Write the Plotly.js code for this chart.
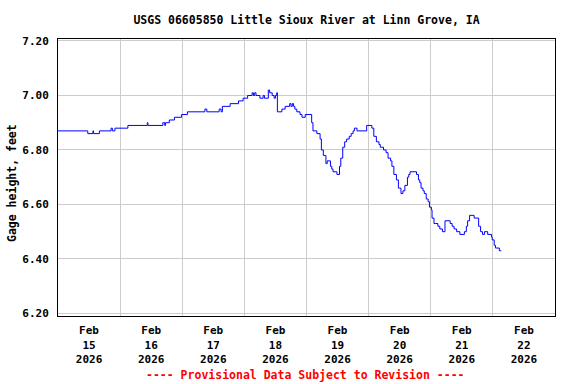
<!DOCTYPE html>
<html>
<head>
<meta charset="utf-8">
<script src="https://cdn.plot.ly/plotly-3.0.1.min.js"></script>
<style>
  html, body { margin: 0; padding: 0; background: #fff; }
  #chart { width: 576px; height: 384px; }
</style>
</head>
<body>
<div id="chart"></div>
<script>
// ---- Data ----
const chartTitle = "USGS 06605850 Little Sioux River at Linn Grove, IA";
const yAxisTitle = "Gage height, feet";
const footerText = "---- Provisional Data Subject to Revision ----";

const times = [
  "2026-02-15 00:00","2026-02-15 11:30","2026-02-15 13:30","2026-02-15 13:45","2026-02-15 16:00",
  "2026-02-15 20:30","2026-02-15 21:00","2026-02-15 22:00","2026-02-16 03:00","2026-02-16 10:30",
  "2026-02-16 10:45","2026-02-16 16:30","2026-02-16 17:15","2026-02-16 17:30","2026-02-16 19:00",
  "2026-02-16 21:00","2026-02-16 23:45","2026-02-17 02:00","2026-02-17 08:45","2026-02-17 09:30",
  "2026-02-17 14:15","2026-02-17 15:00","2026-02-17 15:30","2026-02-17 18:30","2026-02-17 21:45",
  "2026-02-17 23:30","2026-02-18 01:15","2026-02-18 03:00","2026-02-18 03:30","2026-02-18 04:00",
  "2026-02-18 04:30","2026-02-18 06:00","2026-02-18 07:15","2026-02-18 07:45","2026-02-18 09:15",
  "2026-02-18 09:45","2026-02-18 10:45","2026-02-18 11:30","2026-02-18 12:00","2026-02-18 12:30",
  "2026-02-18 12:45","2026-02-18 14:30","2026-02-18 15:45","2026-02-18 17:30","2026-02-18 18:00",
  "2026-02-18 18:30","2026-02-18 19:00","2026-02-18 19:30","2026-02-18 20:15","2026-02-18 21:30",
  "2026-02-18 22:15","2026-02-18 23:30","2026-02-19 02:00","2026-02-19 02:30","2026-02-19 04:00",
  "2026-02-19 05:15","2026-02-19 05:45","2026-02-19 06:30","2026-02-19 07:30","2026-02-19 08:00",
  "2026-02-19 09:15","2026-02-19 09:45","2026-02-19 10:15","2026-02-19 11:45","2026-02-19 12:45",
  "2026-02-19 13:15","2026-02-19 14:00","2026-02-19 14:45","2026-02-19 15:30","2026-02-19 16:30",
  "2026-02-19 17:15","2026-02-19 18:00","2026-02-19 18:30","2026-02-19 19:30","2026-02-19 23:15",
  "2026-02-20 01:15","2026-02-20 02:00","2026-02-20 03:00","2026-02-20 04:00","2026-02-20 04:30",
  "2026-02-20 05:45","2026-02-20 06:45","2026-02-20 07:30","2026-02-20 08:30","2026-02-20 09:00",
  "2026-02-20 09:45","2026-02-20 10:45","2026-02-20 11:30","2026-02-20 12:30","2026-02-20 13:15",
  "2026-02-20 14:00","2026-02-20 15:00","2026-02-20 15:30","2026-02-20 16:00","2026-02-20 18:30",
  "2026-02-20 19:15","2026-02-20 19:45","2026-02-20 20:15","2026-02-20 21:00","2026-02-20 21:30",
  "2026-02-20 22:15","2026-02-20 23:00","2026-02-20 23:30","2026-02-21 00:15","2026-02-21 00:30",
  "2026-02-21 01:15","2026-02-21 01:45","2026-02-21 02:45","2026-02-21 03:30","2026-02-21 04:30",
  "2026-02-21 05:30","2026-02-21 07:30","2026-02-21 08:15","2026-02-21 09:00","2026-02-21 10:00",
  "2026-02-21 11:15","2026-02-21 13:00","2026-02-21 13:45","2026-02-21 14:15","2026-02-21 15:00",
  "2026-02-21 16:45","2026-02-21 18:30","2026-02-21 19:15","2026-02-21 20:00","2026-02-21 20:45",
  "2026-02-21 22:00","2026-02-21 23:30","2026-02-21 23:45","2026-02-22 00:30","2026-02-22 01:00",
  "2026-02-22 02:00","2026-02-22 02:30","2026-02-22 03:15"
];

const gageHeight = [
  6.87, 6.86, 6.87, 6.86, 6.87,
  6.88, 6.87, 6.88, 6.89, 6.90,
  6.89, 6.90, 6.89, 6.90, 6.91,
  6.92, 6.93, 6.94, 6.95, 6.94,
  6.95, 6.94, 6.96, 6.97, 6.98,
  6.99, 7.00, 7.01, 7.00, 7.01,
  7.00, 6.99, 7.00, 6.99, 7.02,
  7.01, 7.00, 6.99, 7.00, 7.01,
  6.94, 6.95, 6.96, 6.97, 6.96,
  6.97, 6.96, 6.95, 6.94, 6.93,
  6.92, 6.93, 6.90, 6.87, 6.86,
  6.84, 6.80, 6.78, 6.75, 6.76,
  6.74, 6.73, 6.72, 6.71, 6.74,
  6.77, 6.81, 6.83, 6.84, 6.85,
  6.86, 6.87, 6.88, 6.87, 6.89,
  6.88, 6.85, 6.83, 6.82, 6.81,
  6.80, 6.79, 6.77, 6.76, 6.74,
  6.71, 6.69, 6.66, 6.64, 6.65,
  6.67, 6.70, 6.71, 6.72, 6.71,
  6.69, 6.68, 6.66, 6.65, 6.64,
  6.62, 6.61, 6.59, 6.58, 6.55,
  6.53, 6.53, 6.52, 6.51, 6.50,
  6.54, 6.53, 6.52, 6.51, 6.50,
  6.49, 6.50, 6.52, 6.54, 6.56,
  6.55, 6.52, 6.50, 6.49, 6.50,
  6.49, 6.48, 6.47, 6.45, 6.44,
  6.44, 6.43, 6.43
];

const xTickDates = ["2026-02-15 12:00","2026-02-16 12:00","2026-02-17 12:00","2026-02-18 12:00",
                    "2026-02-19 12:00","2026-02-20 12:00","2026-02-21 12:00","2026-02-22 12:00"];
const xTickLabels = ["Feb<br>15<br>2026","Feb<br>16<br>2026","Feb<br>17<br>2026","Feb<br>18<br>2026",
                     "Feb<br>19<br>2026","Feb<br>20<br>2026","Feb<br>21<br>2026","Feb<br>22<br>2026"];
const yTickValues = [6.2, 6.4, 6.6, 6.8, 7.0, 7.2];
const xRange = ["2026-02-15 00:00", "2026-02-23 00:00"];
const yRange = [6.1905, 7.2073];

// ---- Chart ----
const monoFont = "DejaVu Sans Mono, Liberation Mono, monospace";

const trace = {
  type: "scatter",
  mode: "lines",
  x: times,
  y: gageHeight,
  line: { color: "#0000FF", width: 1, shape: "hv" },
  hoverinfo: "x+y"
};

const layout = {
  width: 576,
  height: 384,
  margin: { l: 58, r: 21, t: 39, b: 68 },
  paper_bgcolor: "#FFFFFF",
  plot_bgcolor: "#FFFFFF",
  showlegend: false,
  title: {
    text: chartTitle,
    font: { family: monoFont, size: 11.5, color: "#000000", weight: "bold" },
    x: 0.5, xref: "paper", xanchor: "center",
    y: 1 - 20 / 384, yref: "container", yanchor: "middle"
  },
  xaxis: {
    type: "date",
    range: xRange,
    tickmode: "array",
    tickvals: xTickDates,
    ticktext: xTickLabels,
    showgrid: false,
    ticks: "",
    ticklabelstandoff: 4,
    tickfont: { family: monoFont, size: 11, color: "#000000", weight: "bold" },
    minor: {
      tick0: "2026-02-15 00:00",
      dtick: 86400000,
      showgrid: true,
      gridcolor: "#CCCCCC",
      gridwidth: 1,
      ticks: ""
    },
    showline: true,
    linecolor: "#000000",
    linewidth: 1,
    mirror: true,
    zeroline: false,
    fixedrange: true
  },
  yaxis: {
    range: yRange,
    tickmode: "array",
    tickvals: yTickValues,
    tickformat: ".2f",
    showgrid: true,
    gridcolor: "#CCCCCC",
    gridwidth: 1,
    ticks: "",
    ticklabelstandoff: 6,
    tickfont: { family: monoFont, size: 11, color: "#000000", weight: "bold" },
    showline: true,
    linecolor: "#000000",
    linewidth: 1,
    mirror: true,
    zeroline: false,
    fixedrange: true
  },
  annotations: [
    {
      text: yAxisTitle,
      xref: "paper", yref: "paper",
      x: (12 - 58) / 497, y: (316 - 183) / 277,
      xanchor: "center", yanchor: "middle",
      textangle: -90,
      showarrow: false,
      font: { family: monoFont, size: 11.5, color: "#000000", weight: "bold" }
    },
    {
      text: footerText,
      xref: "paper", yref: "paper",
      x: (305.5 - 58) / 497, y: (316 - 375) / 277,
      xanchor: "center", yanchor: "middle",
      showarrow: false,
      font: { family: monoFont, size: 11.5, color: "#FF0000", weight: "bold" }
    }
  ]
};

Plotly.newPlot("chart", [trace], layout, { staticPlot: true, displayModeBar: false });
</script>
</body>
</html>
